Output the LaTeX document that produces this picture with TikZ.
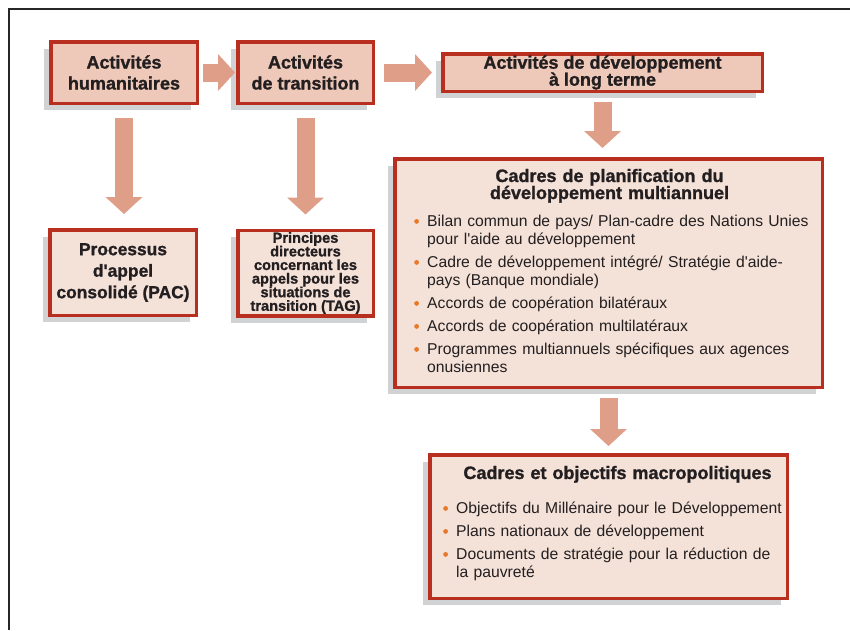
\documentclass[tikz,border=0pt]{standalone}
\usepackage{fontspec}
\setmainfont{Liberation Sans}[BoldFeatures={FakeBold=1.2}]
\usetikzlibrary{arrows.meta,calc}
\pgfdeclarelayer{bg}
\pgfsetlayers{bg,main}
\definecolor{bordc}{HTML}{B82E1F}
\definecolor{filla}{HTML}{EEC8B8}
\definecolor{fillb}{HTML}{F4E1D8}
\definecolor{shadc}{HTML}{D1D2D4}
\definecolor{arrc}{HTML}{DE9E87}
\definecolor{bulc}{HTML}{E8782A}
\definecolor{txtc}{HTML}{231F20}
\lineskiplimit=-20pt
\newcommand{\bul}{\makebox[13pt][l]{\tikz[baseline=0pt]\fill[bulc] (2.6pt,4.6pt) circle (2.4pt);}}
\newcommand{\ind}{\hspace*{13pt}}
\newcommand{\q}{\textquotesingle}
\begin{document}
\begin{tikzpicture}[x=1pt,y=-1pt,
  box/.style={draw=bordc, line width=3.5pt, inner sep=0pt, outer sep=0pt, text=txtc, align=center, font=\bfseries},
  boxa/.style={box, fill=filla},
  boxb/.style={box, fill=fillb},
  fat/.style={draw=arrc, line width=18pt, -{Triangle[width=36pt,length=17pt]}},
  ttl/.style={inner sep=0pt, text=txtc, align=center, text width=420pt, font=\bfseries\fontsize{18}{17}\selectfont},
  lst/.style={inner sep=0pt, text=txtc, align=left, text width=400pt, font=\fontsize{15.7}{18}\selectfont}
]
\useasboundingbox (0,0) rectangle (850,630);
\draw[line width=1.2pt, black!85] (850,9) -- (9,9) -- (9,630);

\node[boxa, minimum width=146.5pt, minimum height=61.5pt, font=\bfseries\fontsize{18}{21}\selectfont] (b1) at (124,72.5) {Activités\\humanitaires};
\node[boxa, minimum width=135.5pt, minimum height=61.5pt, font=\bfseries\fontsize{18}{21}\selectfont] (b2) at (305.5,72.5) {Activités\\de transition};
\node[boxa, minimum width=319.5pt, minimum height=37.5pt, font=\bfseries\fontsize{18}{17}\selectfont] (b3) at (602.5,72.5) {Activités de développement\\à long terme};
\node[boxb, minimum width=427.5pt, minimum height=228.5pt] (b4) at (608.5,273) {};
\node[boxb, minimum width=357.5pt, minimum height=143.5pt] (b5) at (608.5,526.5) {};
\node[boxb, minimum width=146.5pt, minimum height=85.5pt, font=\bfseries\fontsize{17.4}{21.5}\selectfont] (b6) at (123,272.5) {Processus\\d\q appel\\consolidé (PAC)};
\node[boxb, minimum width=135.5pt, minimum height=85.5pt, font=\bfseries\fontsize{14.6}{13.6}\selectfont] (b7) at (305.5,273) {Principes\\directeurs\\concernant les\\appels pour les\\situations de\\transition (TAG)};

\begin{pgfonlayer}{bg}
\foreach \n in {b1,b2,b3,b4,b5,b6,b7}
  \fill[shadc] ($(\n.north west)+(-6.5,7)$) rectangle ($(\n.south east)+(-6.5,7)$);
\end{pgfonlayer}

\node[ttl, anchor=base] (t4) at (609.5,182) {Cadres de planification du\\développement multiannuel};
\node[lst, anchor=base west] (l4) at (414,226) {\bul Bilan commun de pays/ Plan-cadre des Nations Unies\\
\ind pour l\q aide au développement\\[5pt]
\bul Cadre de développement intégré/ Stratégie d\q aide-\\
\ind pays (Banque mondiale)\\[5pt]
\bul Accords de coopération bilatéraux\\[5pt]
\bul Accords de coopération multilatéraux\\[5pt]
\bul Programmes multiannuels spécifiques aux agences\\
\ind onusiennes};

\node[ttl, anchor=base] (t5) at (617.5,479) {Cadres et objectifs macropolitiques};
\node[lst, anchor=base west] (l5) at (443,513) {\bul Objectifs du Millénaire pour le Développement\\[5pt]
\bul Plans nationaux de développement\\[5pt]
\bul Documents de stratégie pour la réduction de\\
\ind la pauvreté};

\draw[fat, shorten <=5.75pt, shorten >=2.75pt] (b1.east) -- (b2.west);
\draw[fat, shorten <=10.75pt, shorten >=10.75pt] (b2.east) -- (b3.west);
\draw[fat, shorten <=14.75pt, shorten >=15.75pt] (b1.south) -- (b1.south |- b6.north);
\draw[fat, shorten <=14.75pt, shorten >=15.75pt] (b2.south) -- (b2.south |- b7.north);
\draw[fat, shorten <=10.75pt, shorten >=10.75pt] (b3.south) -- (b3.south |- b4.north);
\draw[fat, shorten <=10.75pt, shorten >=8.75pt] (b4.south) -- (b4.south |- b5.north);
\end{tikzpicture}
\end{document}
